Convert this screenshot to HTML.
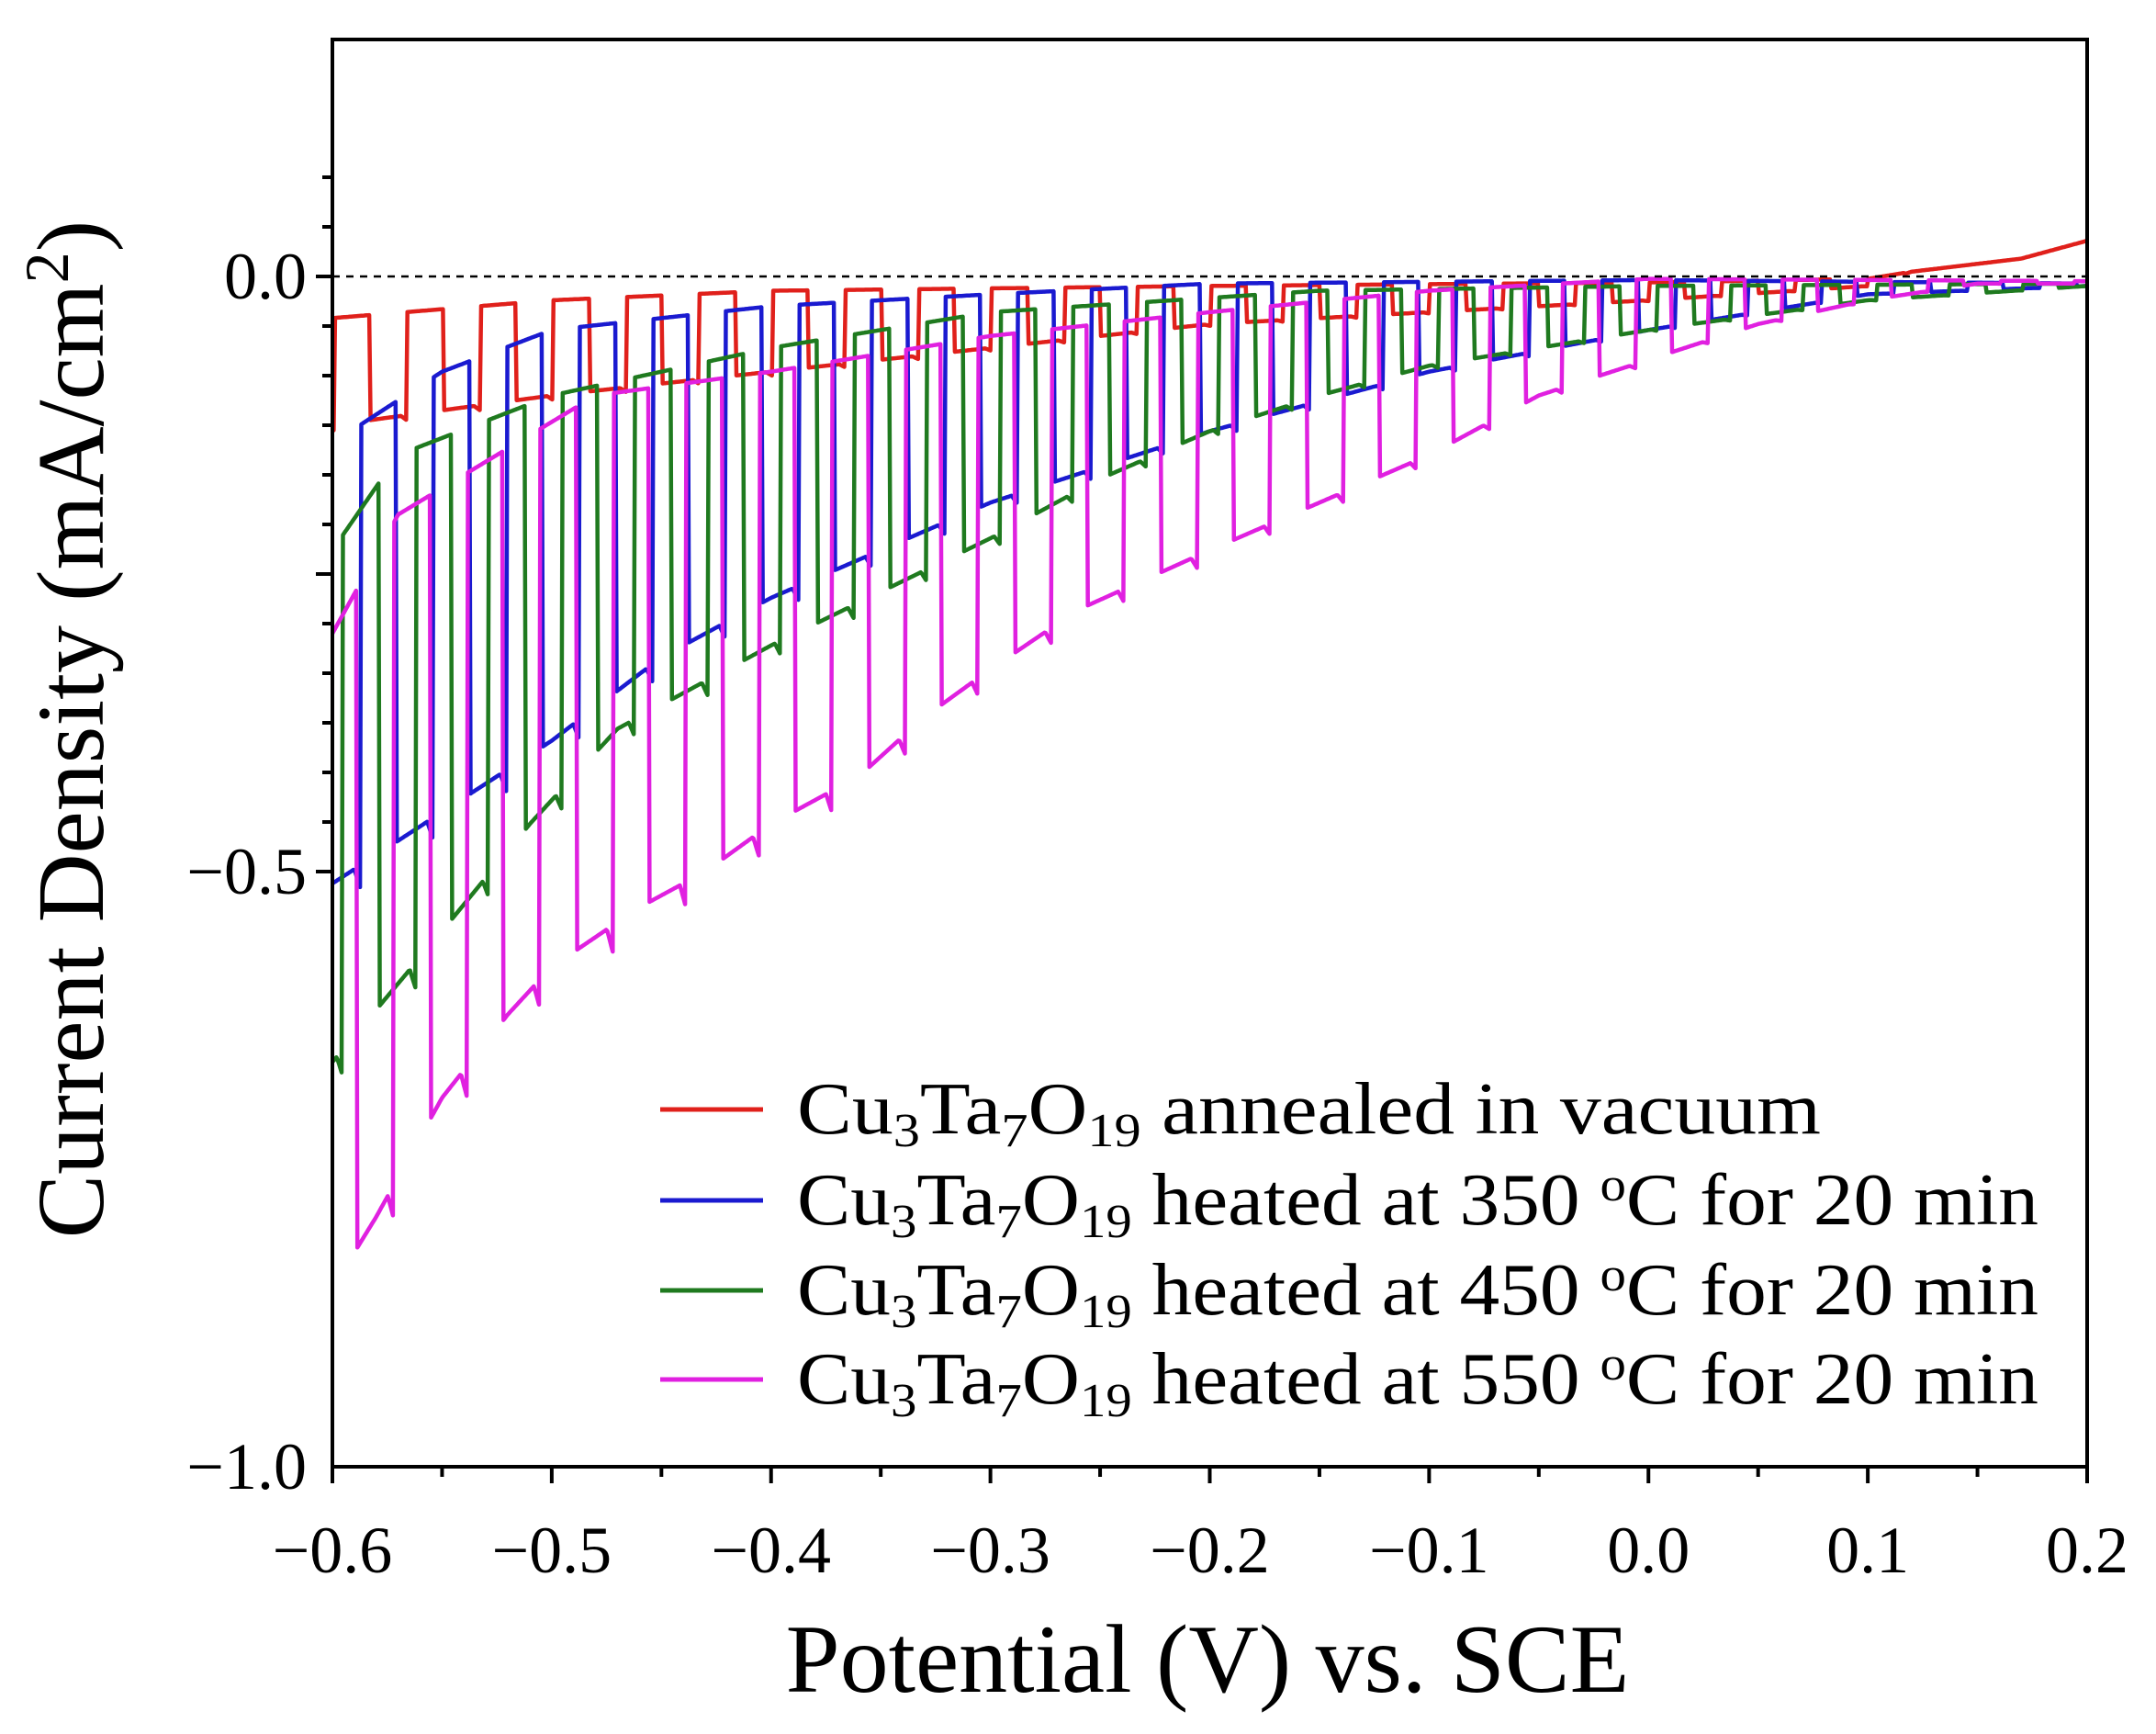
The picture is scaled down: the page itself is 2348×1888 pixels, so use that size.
<!DOCTYPE html>
<html><head><meta charset="utf-8"><style>
html,body{margin:0;padding:0;background:#fff;}
svg{display:block;font-family:"Liberation Serif",serif;}
</style></head><body>
<svg id="s" width="2348" height="1888" viewBox="0 0 2348 1888" xmlns="http://www.w3.org/2000/svg">
<rect width="2348" height="1888" fill="#fff"/>
<g id="curves" fill="none" stroke-width="4.5" stroke-linejoin="round"></g>
<line x1="362" y1="301" x2="2273" y2="301" stroke="#000" stroke-width="2.5" stroke-dasharray="8,7"/>
<rect x="362" y="43" width="1911" height="1554" fill="none" stroke="#000" stroke-width="4"/>
<g id="ticks" stroke="#000" stroke-width="4"></g>
<g font-size="72" text-anchor="end">
<text x="334" y="325">0.0</text>
<text x="334" y="973">−0.5</text>
<text x="334" y="1621">−1.0</text>
</g>
<g font-size="72" text-anchor="middle" id="xl"></g>
<text x="1315" y="1842" font-size="106" text-anchor="middle">Potential (V) vs. SCE</text>
<text transform="translate(112,794) rotate(-90)" font-size="104" text-anchor="middle">Current Density (mA/cm<tspan baseline-shift="super" font-size="68">2</tspan>)</text>
<g stroke-width="5">
<line x1="719" y1="1208" x2="831" y2="1208" stroke="#e0201b"/>
<line x1="719" y1="1307" x2="831" y2="1307" stroke="#1a1ad0"/>
<line x1="719" y1="1405" x2="831" y2="1405" stroke="#1f7a1f"/>
<line x1="719" y1="1502" x2="831" y2="1502" stroke="#e020e0"/>
</g>
<g font-size="80">
<text x="868" y="1234" textLength="1115" lengthAdjust="spacingAndGlyphs">Cu<tspan font-size="52" dy="14">3</tspan><tspan dy="-14">Ta</tspan><tspan font-size="52" dy="14">7</tspan><tspan dy="-14">O</tspan><tspan font-size="52" dy="14">19</tspan><tspan dy="-14"> annealed in vacuum</tspan></text>
<text x="868" y="1333" textLength="1352" lengthAdjust="spacingAndGlyphs">Cu<tspan font-size="52" dy="14">3</tspan><tspan dy="-14">Ta</tspan><tspan font-size="52" dy="14">7</tspan><tspan dy="-14">O</tspan><tspan font-size="52" dy="14">19</tspan><tspan dy="-14"> heated at 350 </tspan><tspan font-size="52" dy="-26">o</tspan><tspan dy="26">C for 20 min</tspan></text>
<text x="868" y="1431" textLength="1352" lengthAdjust="spacingAndGlyphs">Cu<tspan font-size="52" dy="14">3</tspan><tspan dy="-14">Ta</tspan><tspan font-size="52" dy="14">7</tspan><tspan dy="-14">O</tspan><tspan font-size="52" dy="14">19</tspan><tspan dy="-14"> heated at 450 </tspan><tspan font-size="52" dy="-26">o</tspan><tspan dy="26">C for 20 min</tspan></text>
<text x="868" y="1528" textLength="1352" lengthAdjust="spacingAndGlyphs">Cu<tspan font-size="52" dy="14">3</tspan><tspan dy="-14">Ta</tspan><tspan font-size="52" dy="14">7</tspan><tspan dy="-14">O</tspan><tspan font-size="52" dy="14">19</tspan><tspan dy="-14"> heated at 550 </tspan><tspan font-size="52" dy="-26">o</tspan><tspan dy="26">C for 20 min</tspan></text>
</g>
</svg>
<script>
(function(){
var NS="http://www.w3.org/2000/svg";
function X(v){return 362+(v+0.6)/0.8*1911;}
function Y(j){return 301-j*1296;}
var t=document.getElementById('ticks'),xl=document.getElementById('xl');
function ln(g,a,b,c,d){var l=document.createElementNS(NS,'line');l.setAttribute('x1',a);l.setAttribute('y1',b);l.setAttribute('x2',c);l.setAttribute('y2',d);g.appendChild(l);}
for(var i=0;i<=16;i++){var v=-0.6+i*0.05,x=X(v);var maj=i%2==0;ln(t,x,1597,x,1597+(maj?18:11));
 if(maj){var tx=document.createElementNS(NS,'text');tx.setAttribute('x',x);tx.setAttribute('y',1712);tx.textContent=(v<-0.001?'−':'')+Math.abs(v).toFixed(1);xl.appendChild(tx);}}
for(var k=-12;k<=2;k++){var j=k/24,y=Y(j);var maj=(k%6==0);ln(t,362,y,362-(maj?18:11),y);}
function interp(pts,v){if(v<=pts[0][0])return pts[0][1];for(var i=1;i<pts.length;i++){if(v<=pts[i][0]){var a=pts[i-1],b=pts[i];return a[1]+(b[1]-a[1])*(v-a[0])/(b[0]-a[0]);}}return pts[pts.length-1][1];}
var S=[
{c:'#e0201b',ph:0.016,lo:[[-0.6,-0.125],[-0.5,-0.1],[-0.4,-0.08],[-0.3,-0.06],[-0.2,-0.04],[-0.1,-0.03],[0,-0.02],[0.1,-0.008],[0.12,0.004],[0.17,0.015],[0.2,0.03]],
 hi:[[-0.6,-0.035],[-0.5,-0.02],[-0.4,-0.012],[-0.2,-0.008],[0,-0.005],[0.1,-0.002],[0.12,0.004],[0.17,0.015],[0.2,0.03]]},
{c:'#1a1ad0',ph:0.004,lo:[[-0.6,-0.51],[-0.55,-0.45],[-0.5,-0.39],[-0.45,-0.32],[-0.4,-0.27],[-0.3,-0.19],[-0.2,-0.13],[-0.1,-0.08],[0,-0.045],[0.1,-0.015],[0.2,-0.008]],
 hi:[[-0.6,-0.14],[-0.55,-0.08],[-0.5,-0.045],[-0.4,-0.025],[-0.3,-0.015],[-0.2,-0.006],[0,-0.003],[0.2,-0.006]]},
{c:'#1f7a1f',ph:0.012,lo:[[-0.6,-0.66],[-0.55,-0.55],[-0.51,-0.46],[-0.47,-0.38],[-0.4,-0.31],[-0.35,-0.265],[-0.3,-0.22],[-0.25,-0.17],[-0.2,-0.13],[-0.15,-0.1],[-0.1,-0.075],[0,-0.045],[0.1,-0.02],[0.2,-0.008]],
 hi:[[-0.6,-0.23],[-0.57,-0.15],[-0.5,-0.1],[-0.4,-0.06],[-0.3,-0.03],[-0.15,-0.012],[0,-0.008],[0.2,-0.006]]},
{c:'#e020e0',ph:0.022,lo:[[-0.6,-0.85],[-0.58,-0.79],[-0.55,-0.69],[-0.52,-0.62],[-0.5,-0.58],[-0.46,-0.53],[-0.43,-0.5],[-0.4,-0.46],[-0.36,-0.42],[-0.33,-0.37],[-0.3,-0.33],[-0.26,-0.28],[-0.2,-0.23],[-0.15,-0.19],[-0.1,-0.15],[-0.05,-0.1],[0,-0.07],[0.05,-0.04],[0.1,-0.02],[0.15,-0.006],[0.2,-0.006]],
 hi:[[-0.6,-0.3],[-0.57,-0.2],[-0.48,-0.1],[-0.4,-0.08],[-0.3,-0.05],[-0.2,-0.03],[-0.1,-0.012],[0,-0.002],[0.2,-0.004]]}
];
var P=0.0333,g=document.getElementById('curves');
S.forEach(function(s){
 var d='',first=true;
 for(var v=-0.6;v<=0.2001;v+=0.0006){
  var p=((v+0.6+s.ph)%P)/P;var y;
  var lo=interp(s.lo,v),hi=interp(s.hi,v);
  if(p<0.5){y=lo+(p>0.42?(lo-hi)*0.05*((p-0.42)/0.08):0);}
  else{y=hi;}
  var yy=Y(y);if(yy>1597)yy=1597;
  d+=(first?'M':'L')+X(v).toFixed(1)+','+yy.toFixed(1);first=false;
 }
 var pa=document.createElementNS(NS,'path');pa.setAttribute('d',d);pa.setAttribute('stroke',s.c);g.appendChild(pa);
});
})();
</script>
</body></html>
